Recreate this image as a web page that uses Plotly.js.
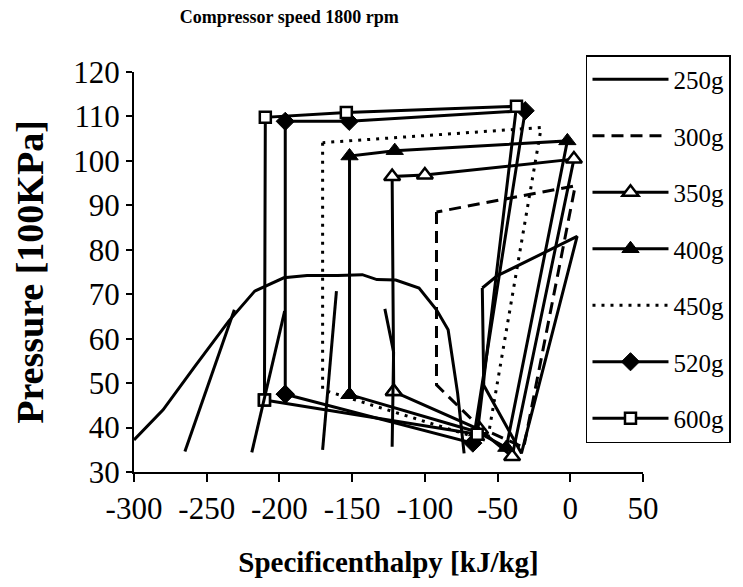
<!DOCTYPE html>
<html><head><meta charset="utf-8">
<script src="https://cdn.plot.ly/plotly-3.0.1.min.js"></script>
<style>html,body{margin:0;padding:0;background:#fff;}#chart{width:743px;height:587px;}</style>
</head><body><div id="chart"></div>
<script>
// Saturation dome
const domeX = [-300, -280, -258, -235, -217, -197, -181, -160, -143, -133, -120, -104, -92, -84, -77.5, -73];
const domeY = [37.2, 44.0, 53.8, 63.9, 70.7, 73.7, 74.2, 74.2, 74.4, 73.3, 73.2, 71.4, 66.5, 62.0, 47.8, 34.2];
// Short unlabelled solid lines
const isoX = [-265, -231, null, -219, -196.4, null, -170.3, -160.8, null, -122.5, -121.5, -127.5];
const isoY = [34.6, 66.5, null, 34.4, 66.2, null, 35.0, 70.7, null, 35.7, 57.0, 66.7];
// Refrigerant charge cycles
const s250x = [-60.5, -59.5, -33.6, 4.7, -50.5, -60.5];
const s250y = [71.4, 49.5, 34.2, 83.0, 74.1, 71.4];
const s300x = [-92, -92, -62, -32, 3.4, -92];
const s300y = [88.5, 49.6, 40.0, 35.5, 94.4, 88.5];
const s350x = [-121.4, -62, -40, 2.5, -100, -122.5, -121.4];
const s350y = [48.1, 39.5, 33.5, 100.4, 96.8, 96.5, 48.1];
const s400x = [-151.8, -64, -44, -2, -120.7, -151.8, -151.8];
const s400y = [47.4, 39.0, 35.5, 104.5, 102.3, 101.1, 47.4];
const s450x = [-170.3, -170.3, -57, -20, -170.3];
const s450y = [104.1, 48.5, 37.0, 107.5, 104.1];
const s520x = [-196, -67, -31, -152, -196, -196];
const s520y = [47.5, 36.5, 111.3, 108.9, 108.9, 47.5];
const s600x = [-210.3, -64, -37, -154, -209.7, -210.3];
const s600y = [46.2, 38.5, 112.3, 110.9, 109.8, 46.2];
const seriesNames = ['250g', '300g', '350g', '400g', '450g', '520g', '600g'];
const xTicks = [-300, -250, -200, -150, -100, -50, 0, 50];
const xTickText = ['-300', '-250', '-200', '-150', '-100', '-50', '0', '50'];
const yTicks = [30, 40, 50, 60, 70, 80, 90, 100, 110, 120];

const serif = '"Liberation Serif", "Times New Roman", serif';
const LW = 3;
function tr(x, y, i, dash, marker) {
  const t = {x: x, y: y, name: seriesNames[i], legendgroup: seriesNames[i], type: 'scatter',
    mode: marker ? 'lines+markers' : 'lines', line: {color: '#000', width: LW, dash: dash}};
  if (marker) t.marker = marker;
  return t;
}
const data = [
  tr(s250x, s250y, 0, 'solid'),
  tr(s300x, s300y, 1, '12px,7px'),
  tr(s350x, s350y, 2, 'solid', {symbol: 'triangle-up', size: 14, color: '#fff', line: {color: '#000', width: 2.5}}),
  tr(s400x, s400y, 3, 'solid', {symbol: 'triangle-up', size: 15, color: '#000', line: {color: '#000', width: 1}}),
  tr(s450x, s450y, 4, '3px,6px'),
  tr(s520x, s520y, 5, 'solid', {symbol: 'diamond', size: 14, color: '#000', line: {color: '#000', width: 1}}),
  tr(s600x, s600y, 6, 'solid', {symbol: 'square', size: 11, color: '#fff', line: {color: '#000', width: 2.5}}),
  {x: domeX, y: domeY, type: 'scatter', mode: 'lines', line: {color: '#000', width: LW}, showlegend: false, hoverinfo: 'skip'},
  {x: isoX, y: isoY, type: 'scatter', mode: 'lines', line: {color: '#000', width: LW}, showlegend: false, connectgaps: false, hoverinfo: 'skip'}
];
const layout = {
  width: 743, height: 587,
  margin: {l: 134, r: 91, t: 72, b: 115},
  paper_bgcolor: '#fff', plot_bgcolor: '#fff',
  font: {family: serif, color: '#000'},
  title: {text: '<b>Compressor speed 1800 rpm</b>', font: {family: serif, size: 18, color: '#000'},
    xref: 'paper', x: 0.305, xanchor: 'center', yref: 'container', y: 0.971, yanchor: 'middle'},
  xaxis: {range: [-300, 50], tickvals: xTicks, ticktext: xTickText, showline: true, linecolor: '#000', linewidth: 2,
    ticks: 'outside', ticklen: 8, tickwidth: 2, tickcolor: '#000', showgrid: false, zeroline: false,
    tickfont: {family: serif, size: 31, color: '#000'},
    title: {text: '<b>Specificenthalpy [kJ/kg]</b>', font: {family: serif, size: 29, color: '#000'}, standoff: 26}},
  yaxis: {range: [30, 120], tickvals: yTicks, showline: true, linecolor: '#000', linewidth: 2,
    ticks: 'outside', ticklen: 6, tickwidth: 2, tickcolor: '#000', showgrid: false, zeroline: false,
    tickfont: {family: serif, size: 31, color: '#000'},
    title: {text: '<b>Pressure [100KPa]</b>', font: {family: serif, size: 38, color: '#000'}, standoff: 18}},
  legend: {x: 0.888, xanchor: 'left', y: 1.0425, yanchor: 'top', bgcolor: '#fff', bordercolor: '#000', borderwidth: 1.5,
    font: {family: serif, size: 25, color: '#000'}, itemwidth: 76, tracegroupgap: 21, traceorder: 'grouped', maxheight: 500},
  showlegend: true
};
Plotly.newPlot('chart', data, layout, {displayModeBar: false, staticPlot: true});
</script></body></html>
